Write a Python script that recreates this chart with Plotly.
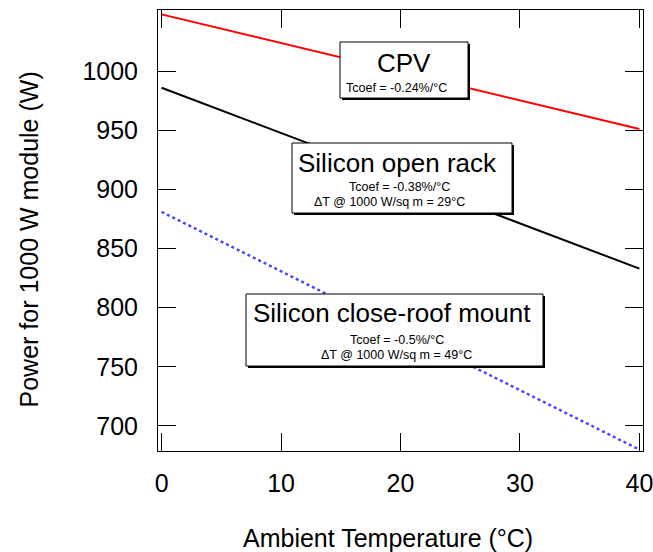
import plotly.graph_objects as go

# ---- data ----
temps = [0, 40]
cpv_power = [1048, 951]
open_rack_power = [986, 833]
close_roof_power = [881, 680]

x_ticks = [0, 10, 20, 30, 40]
y_ticks = [700, 750, 800, 850, 900, 950, 1000]

W, H = 653, 552
L, R, T, B = 158, 643, 10, 451
FONT = "Arial, Liberation Sans, sans-serif"


def px(x):
    return (x - L) / (R - L)


def py(y):
    return (B - y) / (B - T)


fig = go.Figure()
fig.add_trace(go.Scatter(x=temps, y=cpv_power, mode="lines",
                         line=dict(color="#ff0000", width=2), showlegend=False))
fig.add_trace(go.Scatter(x=temps, y=open_rack_power, mode="lines",
                         line=dict(color="#000000", width=2), showlegend=False))
fig.add_trace(go.Scatter(x=temps, y=close_roof_power, mode="lines",
                         line=dict(color="#4848ff", width=2.5, dash="dot"), showlegend=False))

shapes = []
boxes = [(340, 42, 468, 98), (292, 143, 512, 213), (246, 294, 543, 366)]
for (x0, y0, x1, y1) in boxes:
    shapes.append(dict(type="rect", xref="paper", yref="paper", layer="above",
                       x0=px(x0 + 2), x1=px(x1 + 2), y0=py(y1 + 2), y1=py(y0 + 2),
                       fillcolor="#000000", line=dict(width=0)))
    shapes.append(dict(type="rect", xref="paper", yref="paper", layer="above",
                       x0=px(x0), x1=px(x1), y0=py(y1), y1=py(y0),
                       fillcolor="#ffffff", line=dict(color="#000000", width=1)))

texts = [
    ("CPV", 404, 63, 26, "center"),
    ("Tcoef = -0.24%/°C", 344, 88, 12.5, "left"),
    ("Silicon open rack", 397, 163, 26, "center"),
    ("Tcoef = -0.38%/°C", 399, 187, 12.5, "center"),
    ("ΔT @ 1000 W/sq m = 29°C", 389, 202, 12.5, "center"),
    ("Silicon close-roof mount", 392, 313, 26, "center"),
    ("Tcoef = -0.5%/°C", 397, 340, 12.5, "center"),
    ("ΔT @ 1000 W/sq m = 49°C", 396, 355, 12.5, "center"),
]
annotations = []
for t, x, y, s, anc in texts:
    annotations.append(dict(text=t, x=px(x), y=py(y), xref="paper", yref="paper",
                            xanchor=anc, yanchor="middle", showarrow=False,
                            font=dict(family=FONT, size=s, color="#000000")))

annotations.append(dict(text="Ambient Temperature (°C)", x=px(388), y=py(538),
                        xref="paper", yref="paper", xanchor="center", yanchor="middle",
                        showarrow=False, font=dict(family=FONT, size=25, color="#000000")))
annotations.append(dict(text="Power for 1000 W module (W)", x=px(28.5), y=py(240),
                        xref="paper", yref="paper", xanchor="center", yanchor="middle",
                        textangle=-90, showarrow=False,
                        font=dict(family=FONT, size=25, color="#000000")))

axis_common = dict(showgrid=False, zeroline=False, showline=True, linecolor="#000000",
                   linewidth=1, mirror="ticks", ticks="inside", ticklen=18,
                   tickwidth=1, tickcolor="#000000", ticklabeloverflow="allow",
                   automargin=False,
                   tickfont=dict(family=FONT, size=25, color="#000000"))

fig.update_layout(
    width=W, height=H,
    margin=dict(l=L, r=W - R, t=T, b=H - B),
    plot_bgcolor="#ffffff", paper_bgcolor="#ffffff",
    xaxis=dict(range=[-0.3, 40.3], tickvals=x_ticks, ticklabelstandoff=10, **axis_common),
    yaxis=dict(range=[678.8, 1051.7], tickvals=y_ticks, ticklabelstandoff=14, **axis_common),
    shapes=shapes, annotations=annotations,
)

fig.write_html("out.html")
